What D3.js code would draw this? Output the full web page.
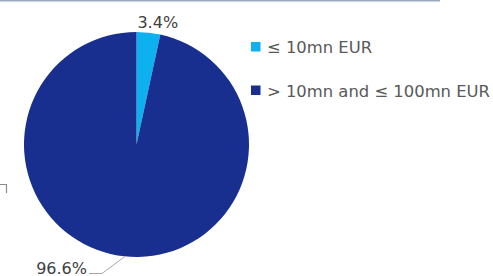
<!DOCTYPE html>
<html>
<head>
<meta charset="utf-8">
<script src="https://cdn.jsdelivr.net/npm/d3@7"></script>
<style>
  body { margin: 0; background: #fff; }
  svg { display: block; font-family: "DejaVu Sans", Roboto, sans-serif; }
</style>
</head>
<body>
<div id="app"></div>
<script>
const categories = ['≤ 10mn EUR', '> 10mn and ≤ 100mn EUR'];
const shares = [3.4, 96.6];
const labels = ['3.4%', '96.6%'];
const colours = ['#0eb1ef', '#192f8f'];

const width = 493;
const height = 276;
const radius = 112.5;
const cx = 136.5;
const cy = 144.5;

const svg = d3.select('#app').append('svg')
  .attr('width', width)
  .attr('height', height);

// frame line at the top and the cut-off corner on the left
svg.append('line')
  .attr('x1', 0).attr('x2', 440)
  .attr('y1', 0.5).attr('y2', 0.5)
  .attr('stroke', '#9aabbf')
  .attr('stroke-width', 2);

svg.append('path')
  .attr('d', 'M0,184.5 H6.5 V193')
  .attr('fill', 'none')
  .attr('stroke', '#8c8c8c')
  .attr('stroke-width', 1.2);

const pie = d3.pie().sort(null).value(d => d);
const arc = d3.arc().innerRadius(0).outerRadius(radius);
const arcs = pie(shares);

const g = svg.append('g').attr('transform', `translate(${cx},${cy})`);

g.selectAll('path.slice')
  .data(arcs)
  .enter().append('path')
  .attr('class', 'slice')
  .attr('d', arc)
  .attr('fill', (d, i) => colours[i]);

// small slice label above the pie
const small = arcs[0];
const midA = (small.startAngle + small.endAngle) / 2;
g.append('text')
  .attr('x', Math.sin(midA) * (radius + 12) + 8)
  .attr('y', -Math.cos(midA) * (radius + 5))
  .attr('text-anchor', 'middle')
  .attr('font-size', 16)
  .attr('fill', '#404040')
  .text(labels[0]);

// big slice label with leader line, bottom left
const leadA = Math.PI + 0.102;
const edge = [Math.sin(leadA) * radius, -Math.cos(leadA) * radius];
const elbow = [-34.5, 129];
g.append('polyline')
  .attr('points', [edge, elbow, [elbow[0] - 13, elbow[1]]].map(p => p.join(',')).join(' '))
  .attr('fill', 'none')
  .attr('stroke', '#a6a6a6')
  .attr('stroke-width', 1);

g.append('text')
  .attr('x', elbow[0] - 15)
  .attr('y', elbow[1] + 0.5)
  .attr('text-anchor', 'end')
  .attr('font-size', 16)
  .attr('fill', '#404040')
  .text(labels[1]);

// legend
const legend = svg.append('g').attr('transform', 'translate(251,42)');
const rows = legend.selectAll('g')
  .data(categories)
  .enter().append('g')
  .attr('transform', (d, i) => `translate(0,${i * 43.5})`);

rows.append('rect')
  .attr('width', 9.5).attr('height', 9.5)
  .attr('fill', (d, i) => colours[i]);

rows.append('text')
  .attr('x', 16)
  .attr('y', 11)
  .attr('font-size', 16.4)
  .attr('fill', '#595959')
  .text(d => d);
</script>
</body>
</html>
